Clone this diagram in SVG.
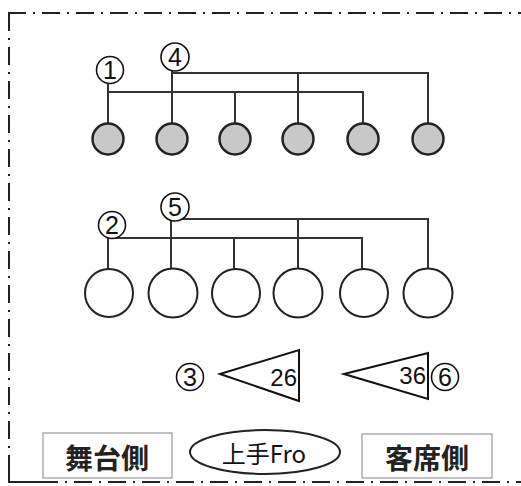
<svg xmlns="http://www.w3.org/2000/svg" width="521" height="486" viewBox="0 0 521 486">
<style>
.frame{fill:none;stroke:#222;stroke-width:2;stroke-dasharray:18 7 2 7}
.wire{fill:none;stroke:#333;stroke-width:2}
.lamp{fill:#c8c8c8;stroke:#222;stroke-width:2.5}
.spot{fill:#fff;stroke:#222;stroke-width:2}
.ring{fill:#fff;stroke:#111;stroke-width:1.6}
.num{font-family:"Liberation Sans",Arial,sans-serif;font-size:25px;fill:#111;text-anchor:middle}
.val{font-family:"Liberation Sans Narrow","Liberation Sans",sans-serif;font-size:24px;fill:#111;text-anchor:end}
.tri{fill:#fff;stroke:#111;stroke-width:2}
.box{fill:#fff;stroke:#999;stroke-width:1.2}
.lbl{font-family:"Noto Sans CJK JP",sans-serif;font-weight:bold;font-size:28px;fill:#222;text-anchor:middle;dominant-baseline:central}
.ell{font-family:"Noto Sans CJK JP",sans-serif;font-size:24px;fill:#111;text-anchor:middle;dominant-baseline:central}
</style>
<rect width="521" height="486" fill="#fff"/>
<g id="frame">
<line class="frame" x1="8" y1="13" x2="521" y2="13"/>
<line class="frame" x1="9" y1="13" x2="9" y2="482"/>
<line class="frame" x1="40" y1="482" x2="521" y2="482"/>
<polyline points="9,470 9,482 40,482" fill="none" stroke="#222" stroke-width="2"/>
</g>
<g id="connectors">
<polyline class="wire" points="108,123 108,83 108,92 363,92 363,123"/>
<line class="wire" x1="235" y1="92" x2="235" y2="123"/>
<polyline class="wire" points="172,123 172,70 172,73 428,73 428,123"/>
<line class="wire" x1="298" y1="73" x2="298" y2="123"/>
<polyline class="wire" points="108,269 108,238 362,238 362,269"/>
<line class="wire" x1="234" y1="238" x2="234" y2="269"/>
<polyline class="wire" points="171,269 171,219 428,219 428,269"/>
<line class="wire" x1="298" y1="219" x2="298" y2="269"/>
</g>
<g id="top-row">
<circle class="lamp" cx="108" cy="139" r="15.5"/>
<circle class="lamp" cx="172" cy="139" r="15.5"/>
<circle class="lamp" cx="235" cy="139" r="15.5"/>
<circle class="lamp" cx="298" cy="139" r="15.5"/>
<circle class="lamp" cx="363" cy="139" r="15.5"/>
<circle class="lamp" cx="428" cy="139" r="15.5"/>
</g>
<g id="bottom-row">
<circle class="spot" cx="109" cy="293" r="24"/>
<circle class="spot" cx="173" cy="293" r="24.5"/>
<circle class="spot" cx="236" cy="293" r="24"/>
<circle class="spot" cx="298" cy="293" r="24.5"/>
<circle class="spot" cx="364" cy="293" r="24"/>
<circle class="spot" cx="428" cy="293" r="24.5"/>
</g>
<g id="label-1"><circle class="ring" cx="110" cy="70" r="13.5"/><text class="num" x="110" y="79">1</text></g>
<g id="label-4"><circle class="ring" cx="175" cy="57" r="14"/><text class="num" x="175" y="66">4</text></g>
<g id="label-2"><circle class="ring" cx="112" cy="225" r="13.5"/><text class="num" x="112" y="234">2</text></g>
<g id="label-5"><circle class="ring" cx="175" cy="207" r="14"/><text class="num" x="175" y="216">5</text></g>
<g id="label-3"><circle class="ring" cx="190" cy="377" r="13.5"/><text class="num" x="190" y="386">3</text></g>
<g id="label-6"><circle class="ring" cx="445" cy="377" r="13.5"/><text class="num" x="445" y="386">6</text></g>
<g id="triangle-26">
<polygon class="tri" points="220,374 299,350 299,401"/>
<text class="val" x="297" y="386">26</text>
</g>
<g id="triangle-36">
<polygon class="tri" points="344,374 428,353 428,399"/>
<text class="val" x="426" y="384">36</text>
</g>
<g id="stage">
<rect class="box" x="43" y="433" width="129" height="45"/>
<text class="lbl" x="107" y="457">舞台側</text>
</g>
<g id="kamite">
<ellipse cx="265" cy="452" rx="75" ry="22" fill="#fff" stroke="#222" stroke-width="2"/>
<text class="ell" x="264" y="452">上手Fro</text>
</g>
<g id="audience">
<rect class="box" x="362" y="434" width="130" height="44"/>
<text class="lbl" x="427" y="457">客席側</text>
</g>
</svg>
